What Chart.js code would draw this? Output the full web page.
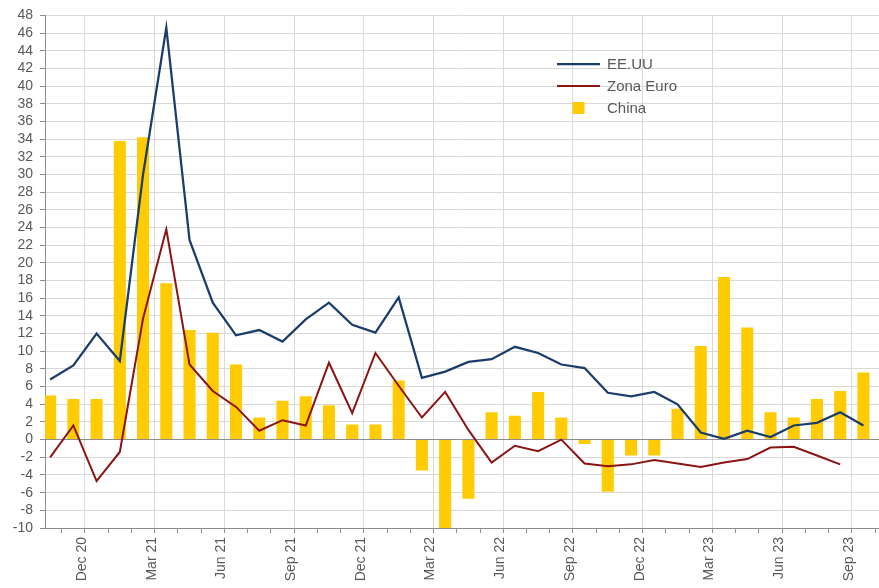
<!DOCTYPE html>
<html>
<head>
<meta charset="utf-8">
<script src="https://cdn.jsdelivr.net/npm/chart.js@4.4.1/dist/chart.umd.min.js"></script>
<style>
  html, body { margin: 0; padding: 0; background: #ffffff; }
  #wrap { width: 879px; height: 588px; position: relative; }
</style>
</head>
<body>
<div id="wrap"><canvas id="c" width="879" height="588"></canvas></div>
<script>
// Month of each observation (one bar / point per month)
const months = ['Nov 20','Dec 20','Jan 21','Feb 21','Mar 21','Apr 21','May 21','Jun 21','Jul 21','Aug 21','Sep 21','Oct 21',
                'Nov 21','Dec 21','Jan 22','Feb 22','Mar 22','Apr 22','May 22','Jun 22','Jul 22','Aug 22','Sep 22','Oct 22',
                'Nov 22','Dec 22','Jan 23','Feb 23','Mar 23','Apr 23','May 23','Jun 23','Jul 23','Aug 23','Sep 23','Oct 23'];

// Tick labels shown on the major gridlines
const tickLabels = ['Dec 20','Mar 21','Jun 21','Sep 21','Dec 21','Mar 22','Jun 22','Sep 22','Dec 22','Mar 23','Jun 23','Sep 23'];

const eeuu = [6.8, 8.4, 12.0, 8.9, 30.0, 46.6, 22.6, 15.5, 11.8, 12.4, 11.1, 13.6,
              15.5, 13.0, 12.1, 16.1, 7.0, 7.7, 8.8, 9.1, 10.5, 9.8, 8.5, 8.1,
              5.3, 4.9, 5.4, 4.0, 0.8, 0.1, 1.0, 0.3, 1.6, 1.9, 3.1, 1.6];

const zonaEuro = [-2.0, 1.6, -4.7, -1.4, 13.7, 23.8, 8.5, 5.5, 3.7, 1.0, 2.2, 1.6,
                  8.7, 3.0, 9.8, 6.1, 2.5, 5.4, 1.1, -2.6, -0.7, -1.3, 0.0, -2.7,
                  -3.0, -2.8, -2.3, -2.7, -3.1, -2.6, -2.2, -0.9, -0.8, -1.8, -2.8, null];

const china = [5.0, 4.6, 4.6, 33.8, 34.2, 17.7, 12.4, 12.1, 8.5, 2.5, 4.4, 4.9,
               3.9, 1.7, 1.7, 6.7, -3.5, -11.1, -6.7, 3.1, 2.7, 5.4, 2.5, -0.5,
               -5.9, -1.8, -1.8, 3.5, 10.6, 18.4, 12.7, 3.1, 2.5, 4.6, 5.5, 7.6];

const toPoints = arr => arr.map((v, i) => ({ x: i + 0.5, y: v }));

const GRID = '#d9d9d9';
const AXIS = '#8c8c8c';
const TEXT = '#595959';
const FONT = "'Liberation Sans', Arial, sans-serif";

const legendPlugin = {
  id: 'insideLegend',
  afterDraw(chart, args, opts) {
    const ctx = chart.ctx;
    ctx.save();
    ctx.font = opts.fontSize + 'px ' + FONT;
    ctx.textBaseline = 'middle';
    ctx.textAlign = 'left';
    chart.data.datasets.forEach((ds, i) => {
      const y = opts.y + i * opts.rowGap;
      if (ds.type === 'line') {
        ctx.strokeStyle = ds.borderColor;
        ctx.lineWidth = ds.borderWidth;
        ctx.beginPath();
        ctx.moveTo(opts.x, y);
        ctx.lineTo(opts.x + opts.lineLen, y);
        ctx.stroke();
      } else {
        const s = opts.box;
        ctx.fillStyle = ds.backgroundColor;
        ctx.fillRect(opts.x + opts.lineLen / 2 - s / 2, y - s / 2, s, s);
      }
      ctx.fillStyle = TEXT;
      ctx.fillText(ds.label, opts.x + opts.lineLen + opts.textGap, y + 1);
    });
    ctx.restore();
  }
};

new Chart(document.getElementById('c'), {
  type: 'bar',
  data: {
    datasets: [
      { type: 'line', label: 'EE.UU', data: toPoints(eeuu), borderColor: '#1b3d6b', borderWidth: 2.25,
        pointRadius: 0, tension: 0, fill: false },
      { type: 'line', label: 'Zona Euro', data: toPoints(zonaEuro), borderColor: '#8b1414', borderWidth: 2,
        pointRadius: 0, tension: 0, fill: false },
      { type: 'bar', label: 'China', data: toPoints(china), backgroundColor: '#ffcb05',
        barPercentage: 0.52, categoryPercentage: 1.0 }
    ]
  },
  options: {
    responsive: false,
    animation: false,
    devicePixelRatio: 1,
    layout: { padding: { top: 14, right: 0, left: 0, bottom: 0 } },
    plugins: {
      legend: { display: false },
      tooltip: { enabled: false },
      insideLegend: { x: 557, y: 64, rowGap: 22, lineLen: 43, textGap: 7, box: 12, fontSize: 15 }
    },
    scales: {
      x: {
        type: 'linear',
        min: 0.28,
        max: 36.17,
        offset: false,
        afterFit(scale) { scale.height = 60; scale.paddingLeft = 0; scale.paddingRight = 0; },
        border: { display: true, color: AXIS, width: 1 },
        grid: {
          offset: false,
          drawTicks: true,
          tickLength: 5,
          color: c => (c.tick && (Math.round(c.tick.value) % 3 === 2)) ? GRID : 'rgba(0,0,0,0)',
          tickColor: AXIS
        },
        ticks: {
          stepSize: 1,
          includeBounds: false,
          autoSkip: false,
          maxRotation: 90,
          minRotation: 90,
          padding: 4,
          labelOffset: -3,
          color: TEXT,
          font: { family: FONT, size: 14 },
          callback: v => {
            const m = Math.round(v);
            if (m % 3 !== 2) return '';
            return tickLabels[(m - 2) / 3] || '';
          }
        }
      },
      y: {
        min: -10,
        max: 48,
        afterFit(scale) { scale.width = 45; },
        border: { display: true, color: AXIS, width: 1 },
        grid: {
          drawTicks: true,
          tickLength: 5,
          color: c => (c.tick && c.tick.value === 0) ? AXIS : GRID,
          tickColor: AXIS
        },
        ticks: {
          stepSize: 2,
          autoSkip: false,
          padding: 7,
          color: TEXT,
          font: { family: FONT, size: 14 }
        }
      }
    }
  },
  plugins: [legendPlugin]
});
</script>
</body>
</html>
